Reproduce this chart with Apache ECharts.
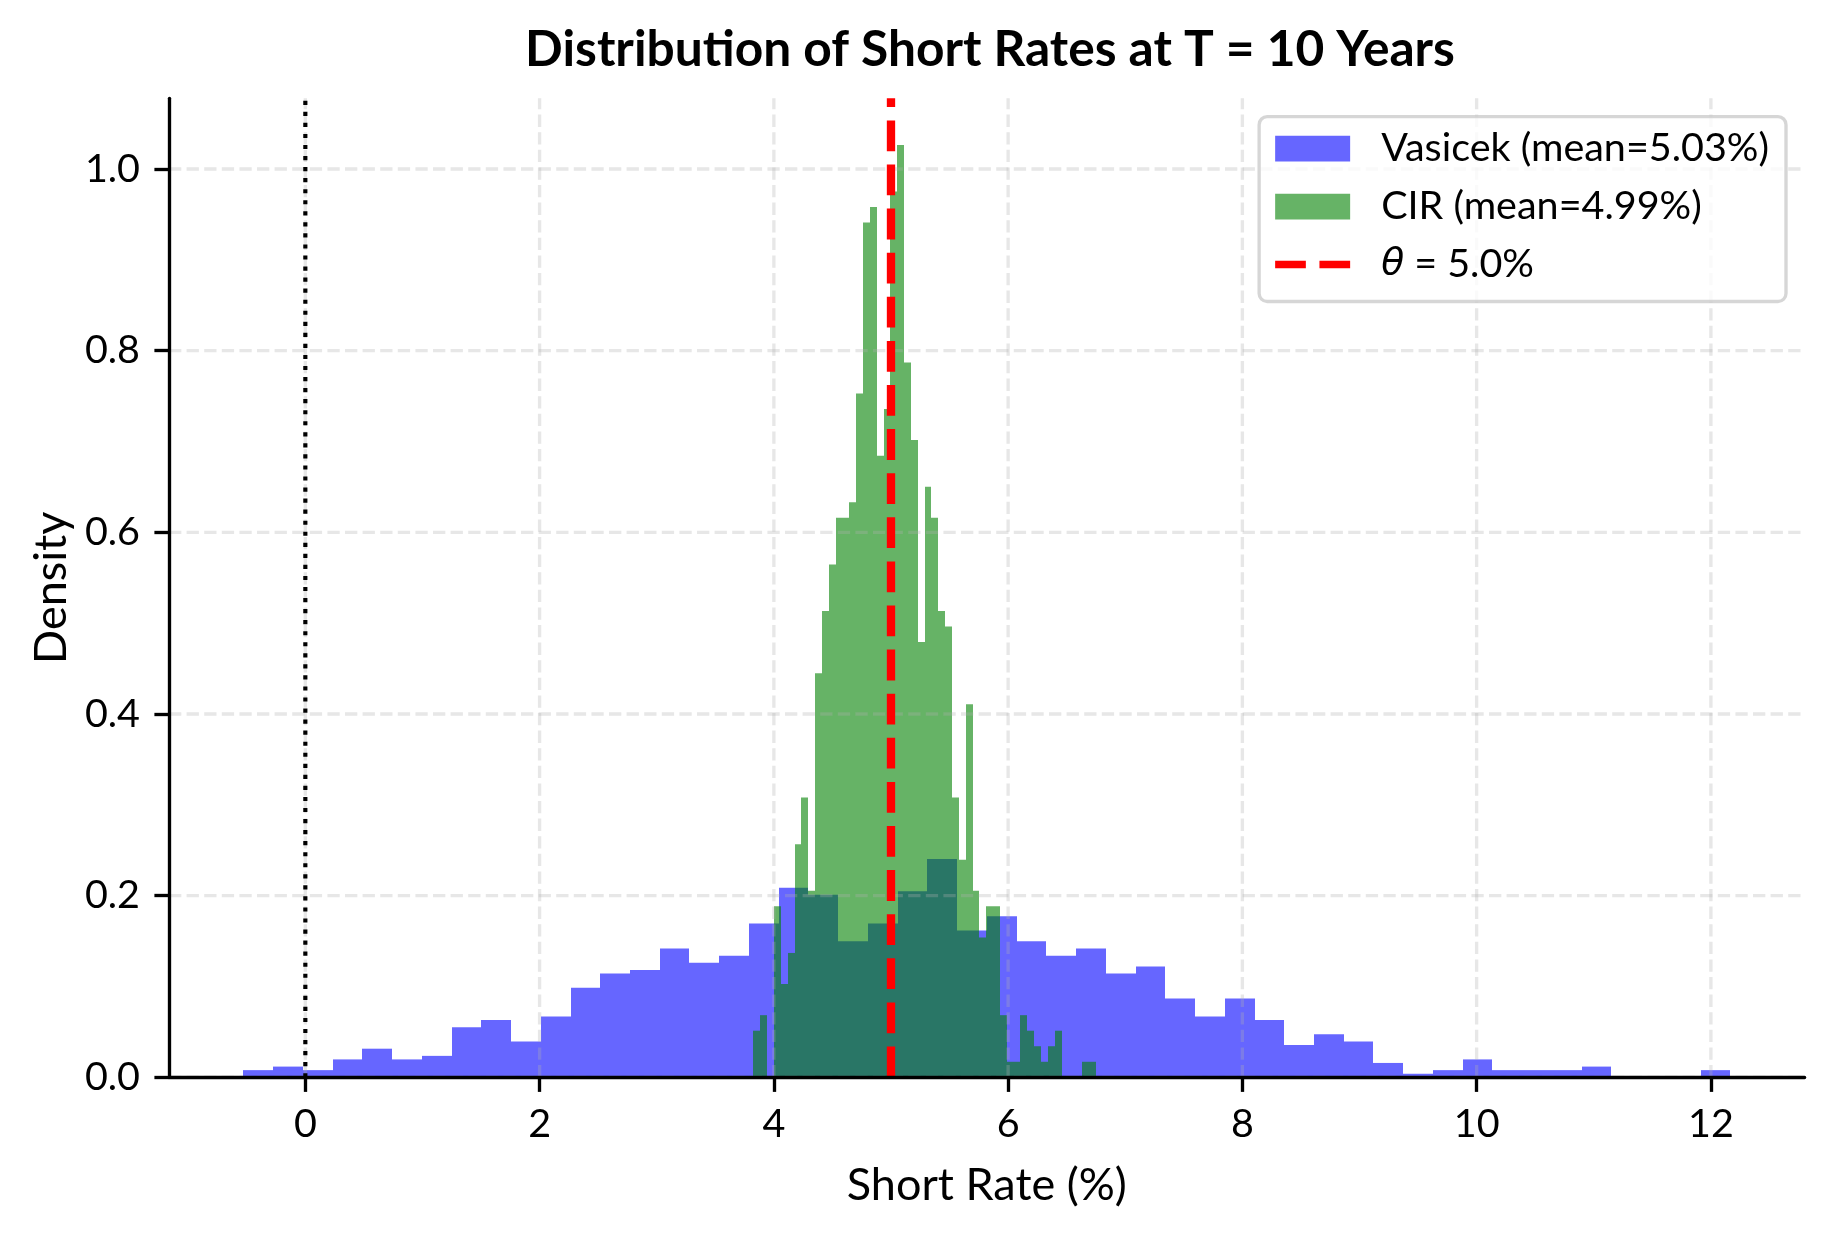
<!DOCTYPE html>
<html>
<head>
<meta charset="utf-8">
<script src="https://cdn.jsdelivr.net/npm/echarts@6/dist/echarts.min.js"></script>
<style>
html, body { margin: 0; padding: 0; background: #ffffff; }
#chart { width: 1834px; height: 1234px; }
</style>
</head>
<body>
<div id="chart"></div>
<script>
// ---------------- data ----------------
const vasicekBinStart = -0.529;
const vasicekBinWidth = 0.2539;
const vasicekDensity = [
  0.0079, 0.0118, 0.0079, 0.0197, 0.0315, 0.0197, 0.0236, 0.0551, 0.0630, 0.0394,
  0.0670, 0.0985, 0.1142, 0.1182, 0.1418, 0.1260, 0.1339, 0.1694, 0.2088, 0.2009,
  0.1497, 0.1694, 0.2048, 0.2403, 0.1615, 0.1773, 0.1497, 0.1339, 0.1418, 0.1142,
  0.1221, 0.0867, 0.0670, 0.0867, 0.0630, 0.0355, 0.0473, 0.0394, 0.0158, 0.0039,
  0.0079, 0.0197, 0.0079, 0.0079, 0.0079, 0.0118, 0, 0, 0, 0.0079
];
const cirBinStart = 3.826;
const cirBinWidth = 0.05845;
const cirDensity = [
  0.0513, 0.0684, 0, 0.1882, 0.1027, 0.1369, 0.2566, 0.3080, 0.2053, 0.4448,
  0.5133, 0.5646, 0.6159, 0.6159, 0.6330, 0.7528, 0.9410, 0.9581, 0.6844, 0.7357,
  0.9752, 1.0265, 0.7870, 0.7015, 0.4791, 0.6501, 0.6159, 0.5133, 0.4962, 0.3080,
  0.2395, 0.4106, 0.2053, 0.1540, 0.1882, 0.1882, 0.0684, 0.0171, 0.0171, 0.0684,
  0.0513, 0.0342, 0.0171, 0.0342, 0.0513, 0, 0, 0, 0.0171, 0.0171
];
const vasicekMean = 5.03;
const cirMean = 4.99;
const thetaValue = 5.0;
const zeroLineX = 0;
const xTickValues = [0, 2, 4, 6, 8, 10, 12];
const yTickValues = [0, 0.2, 0.4, 0.6, 0.8, 1.0];
const xRange = [-1.164, 12.80];
const yRange = [0, 1.0778];
const titleText = 'Distribution of Short Rates at T = 10 Years';
const xAxisName = 'Short Rate (%)';
const yAxisName = 'Density';

// ---------------- styling helpers ----------------
const FONT = 'Lato, "Noto Sans", sans-serif';
const MATH_FONT = '"DejaVu Sans", "Noto Sans", sans-serif';
function fitSize(text, weight, target) {
  const ctx = document.createElement('canvas').getContext('2d');
  ctx.font = weight + ' 100px ' + FONT;
  const w = ctx.measureText(text).width;
  return w > 0 ? 100 * target / w : 40;
}

const vasicekName = 'Vasicek (mean=' + vasicekMean.toFixed(2) + '%)';
const cirName = 'CIR (mean=' + cirMean.toFixed(2) + '%)';
const thetaName = 'θ = ' + thetaValue.toFixed(1) + '%';

const titleSize = fitSize(titleText, 'bold', 930);
const baseSize = fitSize(vasicekName, 'normal', 388);
const nameSize = fitSize(xAxisName, 'normal', 280);

const vasicekColor = 'rgba(0,0,255,0.6)';
const cirColor = 'rgba(0,128,0,0.6)';
const gridColor = 'rgba(176,176,176,0.3)';
// dashed-line legend handle: two dashes inside a 75 x 25.7 box
const dashIcon = 'path://M0,0M75,25.7M0,9H30.7V16.7H0ZM44.3,9H75V16.7H44.3Z';

function bins(start, width, values) {
  return values.map((d, i) => [start + i * width, start + (i + 1) * width, d]);
}

function barRenderer(color) {
  return function (params, api) {
    const h = api.value(2);
    if (!(h > 0)) return null;
    const a = api.coord([api.value(0), h]);
    const b = api.coord([api.value(1), 0]);
    const x0 = Math.round(a[0]);
    const x1 = Math.round(b[0]);
    return {
      type: 'rect',
      shape: { x: x0, y: a[1], width: x1 - x0, height: b[1] - a[1] },
      style: { fill: color }
    };
  };
}

const chart = echarts.init(document.getElementById('chart'), null, { renderer: 'canvas' });

const option = {
  animation: false,
  backgroundColor: '#ffffff',
  grid: { left: 169, right: 29.4, top: 98.3, bottom: 156.7, containLabel: false, outerBoundsMode: 'none' },
  graphic: [{
    type: 'text',
    x: 990,
    y: 50,
    z: 20,
    style: {
      text: titleText,
      fontSize: titleSize,
      fontWeight: 'bold',
      fontFamily: FONT,
      fill: '#000000',
      align: 'center',
      verticalAlign: 'middle'
    }
  }],
  legend: {
    orient: 'vertical',
    right: 48,
    top: 116.7,
    z: 10,
    padding: [12, 17, 17, 16],
    itemWidth: 75,
    itemHeight: 25.7,
    itemGap: 17.9,
    selectedMode: false,
    backgroundColor: 'rgba(255,255,255,0.8)',
    borderColor: 'rgba(204,204,204,0.8)',
    borderWidth: 3.33,
    borderRadius: 8,
    textStyle: {
      fontSize: baseSize,
      fontFamily: FONT,
      color: '#000000',
      lineHeight: 40,
      padding: [0, 0, 0, 26],
      rich: {
        it: { fontStyle: 'italic', fontSize: baseSize * 0.95, fontFamily: MATH_FONT, color: '#000000', lineHeight: 40 }
      }
    },
    formatter: function (name) {
      if (name === thetaName) return '{it|θ} = ' + thetaValue.toFixed(1) + '%';
      return name;
    },
    data: [
      { name: vasicekName, icon: 'rect' },
      { name: cirName, icon: 'rect' },
      { name: thetaName, icon: dashIcon, itemStyle: { color: '#ff0000', borderWidth: 0 } }
    ]
  },
  xAxis: {
    type: 'value',
    min: xRange[0],
    max: xRange[1],
    z: 5,
    axisLine: { show: true, onZero: false, lineStyle: { color: '#000000', width: 3.33 } },
    axisTick: { show: true, customValues: xTickValues, length: 14.6, lineStyle: { color: '#000000', width: 3.33 } },
    axisLabel: {
      customValues: xTickValues,
      margin: 27,
      fontSize: baseSize,
      fontFamily: FONT,
      color: '#000000',
      lineHeight: baseSize,
      formatter: v => String(v)
    },
    splitLine: { show: false },
    name: xAxisName,
    nameLocation: 'middle',
    nameGap: 86,
    nameTextStyle: { fontSize: nameSize, fontFamily: FONT, color: '#000000', lineHeight: nameSize }
  },
  yAxis: {
    type: 'value',
    min: yRange[0],
    max: yRange[1],
    z: 5,
    axisLine: { show: true, onZero: false, lineStyle: { color: '#000000', width: 3.33 } },
    axisTick: { show: true, customValues: yTickValues, length: 14.6, lineStyle: { color: '#000000', width: 3.33 } },
    axisLabel: {
      customValues: yTickValues,
      margin: 29,
      fontSize: baseSize,
      fontFamily: FONT,
      color: '#000000',
      formatter: v => v.toFixed(1)
    },
    splitLine: { show: false },
    name: yAxisName,
    nameLocation: 'middle',
    nameGap: 92,
    nameTextStyle: { fontSize: nameSize, fontFamily: FONT, color: '#000000', lineHeight: nameSize }
  },
  series: [
    {
      type: 'custom',
      name: vasicekName,
      z: 2,
      clip: false,
      itemStyle: { color: vasicekColor },
      encode: { x: [0, 1], y: 2 },
      data: bins(vasicekBinStart, vasicekBinWidth, vasicekDensity),
      renderItem: barRenderer(vasicekColor),
      silent: true
    },
    {
      type: 'custom',
      name: cirName,
      z: 2,
      clip: false,
      itemStyle: { color: cirColor },
      encode: { x: [0, 1], y: 2 },
      data: bins(cirBinStart, cirBinWidth, cirDensity),
      renderItem: barRenderer(cirColor),
      silent: true
    },
    {
      type: 'custom',
      name: 'gridX',
      z: 3,
      silent: true,
      encode: { x: 0, y: 1 },
      data: xTickValues.map(v => [v, 0]),
      renderItem: function (params, api) {
        const cs = params.coordSys;
        const x = api.coord([api.value(0), 0])[0];
        return {
          type: 'line',
          shape: { x1: x, y1: cs.y + cs.height, x2: x, y2: cs.y },
          style: { stroke: gridColor, lineWidth: 3.33, lineDash: [12.3, 5.3] }
        };
      }
    },
    {
      type: 'custom',
      name: 'gridY',
      z: 3,
      silent: true,
      encode: { x: 0, y: 1 },
      data: yTickValues.map(v => [xRange[0], v]),
      renderItem: function (params, api) {
        const cs = params.coordSys;
        const y = api.coord([xRange[0], api.value(1)])[1];
        return {
          type: 'line',
          shape: { x1: cs.x, y1: y, x2: cs.x + cs.width, y2: y },
          style: { stroke: gridColor, lineWidth: 3.33, lineDash: [12.3, 5.3] }
        };
      }
    },
    {
      type: 'line',
      name: 'zeroLine',
      z: 4,
      silent: true,
      symbol: 'none',
      data: [[zeroLineX, yRange[0]], [zeroLineX, yRange[1]]],
      lineStyle: { color: '#000000', width: 4.17, type: [4.17, 6.88], cap: 'butt' }
    },
    {
      type: 'line',
      name: thetaName,
      z: 4,
      silent: true,
      symbol: 'none',
      itemStyle: { color: '#ff0000' },
      data: [[thetaValue, yRange[0]], [thetaValue, yRange[1]]],
      lineStyle: { color: '#ff0000', width: 8.33, type: [30.8, 13.3], cap: 'butt' }
    }
  ]
};

chart.setOption(option);
</script>
</body>
</html>
